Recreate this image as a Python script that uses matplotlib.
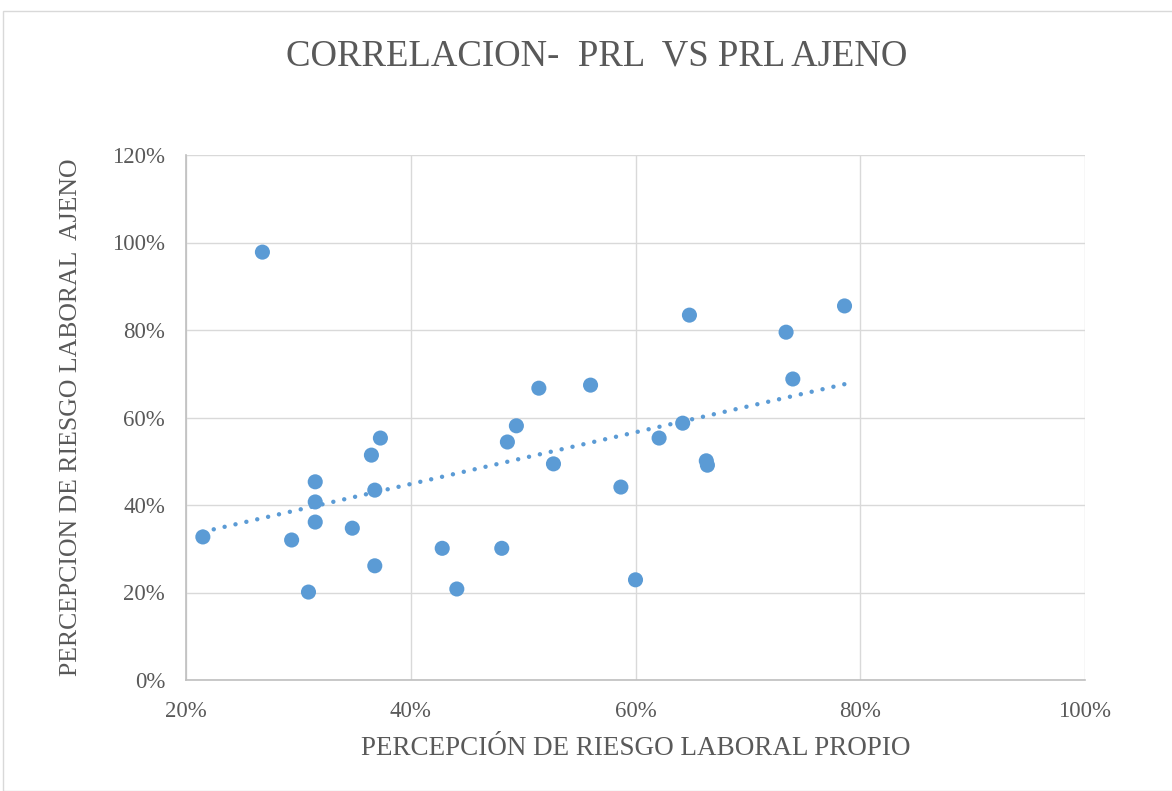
import numpy as np
import matplotlib
matplotlib.use("Agg")
import matplotlib.pyplot as plt
from matplotlib.ticker import FuncFormatter
from matplotlib.patches import Rectangle

# Data (fractions)
prl_propio = [0.268, 0.215, 0.294, 0.309, 0.315, 0.315, 0.315, 0.348, 0.365, 0.368,
              0.368, 0.373, 0.428, 0.441, 0.481, 0.486, 0.494, 0.514, 0.527, 0.560,
              0.587, 0.600, 0.621, 0.642, 0.648, 0.663, 0.664, 0.734, 0.740, 0.786]
prl_ajeno = [0.978, 0.327, 0.320, 0.201, 0.453, 0.407, 0.361, 0.347, 0.514, 0.434,
             0.261, 0.553, 0.301, 0.208, 0.301, 0.544, 0.581, 0.667, 0.494, 0.674,
             0.441, 0.229, 0.553, 0.587, 0.834, 0.501, 0.491, 0.795, 0.688, 0.855]
x_ticks = [0.2, 0.4, 0.6, 0.8, 1.0]
y_ticks = [0.0, 0.2, 0.4, 0.6, 0.8, 1.0, 1.2]
title = "CORRELACION-  PRL  VS PRL AJENO"
xlabel = "PERCEPCIÓN DE RIESGO LABORAL PROPIO"
ylabel = "PERCEPCION DE RIESGO LABORAL  AJENO"

plt.rcParams['font.family'] = ['Liberation Serif', 'DejaVu Serif']
W, H = 1172, 791
fig = plt.figure(figsize=(W / 100, H / 100), dpi=100)
fig.patches.append(Rectangle((3 / W, 0), 1.2, 1 - 11 / H, transform=fig.transFigure,
                             fill=False, edgecolor='#d9d9d9', linewidth=1.0))

ax = fig.add_axes([186 / W, 1 - 680 / H, (1085 - 186) / W, (680 - 155) / H])
gray = '#595959'
blue = '#5B9BD5'

ax.set_xlim(0.2, 1.0)
ax.set_ylim(0.0, 1.2)
ax.set_xticks(x_ticks)
ax.set_yticks(y_ticks)
pct = FuncFormatter(lambda v, p: f"{v * 100:.0f}%")
ax.xaxis.set_major_formatter(pct)
ax.yaxis.set_major_formatter(pct)
ax.tick_params(length=0, labelsize=16.5, labelcolor=gray)
ax.tick_params(axis='x', pad=15)
ax.tick_params(axis='y', pad=15)
ax.grid(True, color='#d9d9d9', linewidth=1.0)
ax.set_axisbelow(True)
for s in ['top', 'right']:
    ax.spines[s].set_visible(False)
for s in ['left', 'bottom']:
    ax.spines[s].set_color('#bfbfbf')
    ax.spines[s].set_linewidth(1.2)

x = np.array(prl_propio)
y = np.array(prl_ajeno)
m, b = np.polyfit(x, y, 1)
xs = np.array([x.min(), x.max()])
ax.plot(xs, m * xs + b, color=blue, linewidth=3.2, linestyle=(0, (0.01, 2.5)),
        dash_capstyle='round', zorder=2)
ax.scatter(x, y, s=118, color=blue, edgecolors='none', zorder=3)

ax.set_xlabel(xlabel, fontsize=19.5, color=gray, labelpad=10)
ax.set_ylabel(ylabel, fontsize=18.5, color=gray, labelpad=22)
fig.text(597 / W, 1 - 56 / H, title, ha='center', va='center', fontsize=26.5, color=gray)

fig.savefig("out.png", dpi=100)
